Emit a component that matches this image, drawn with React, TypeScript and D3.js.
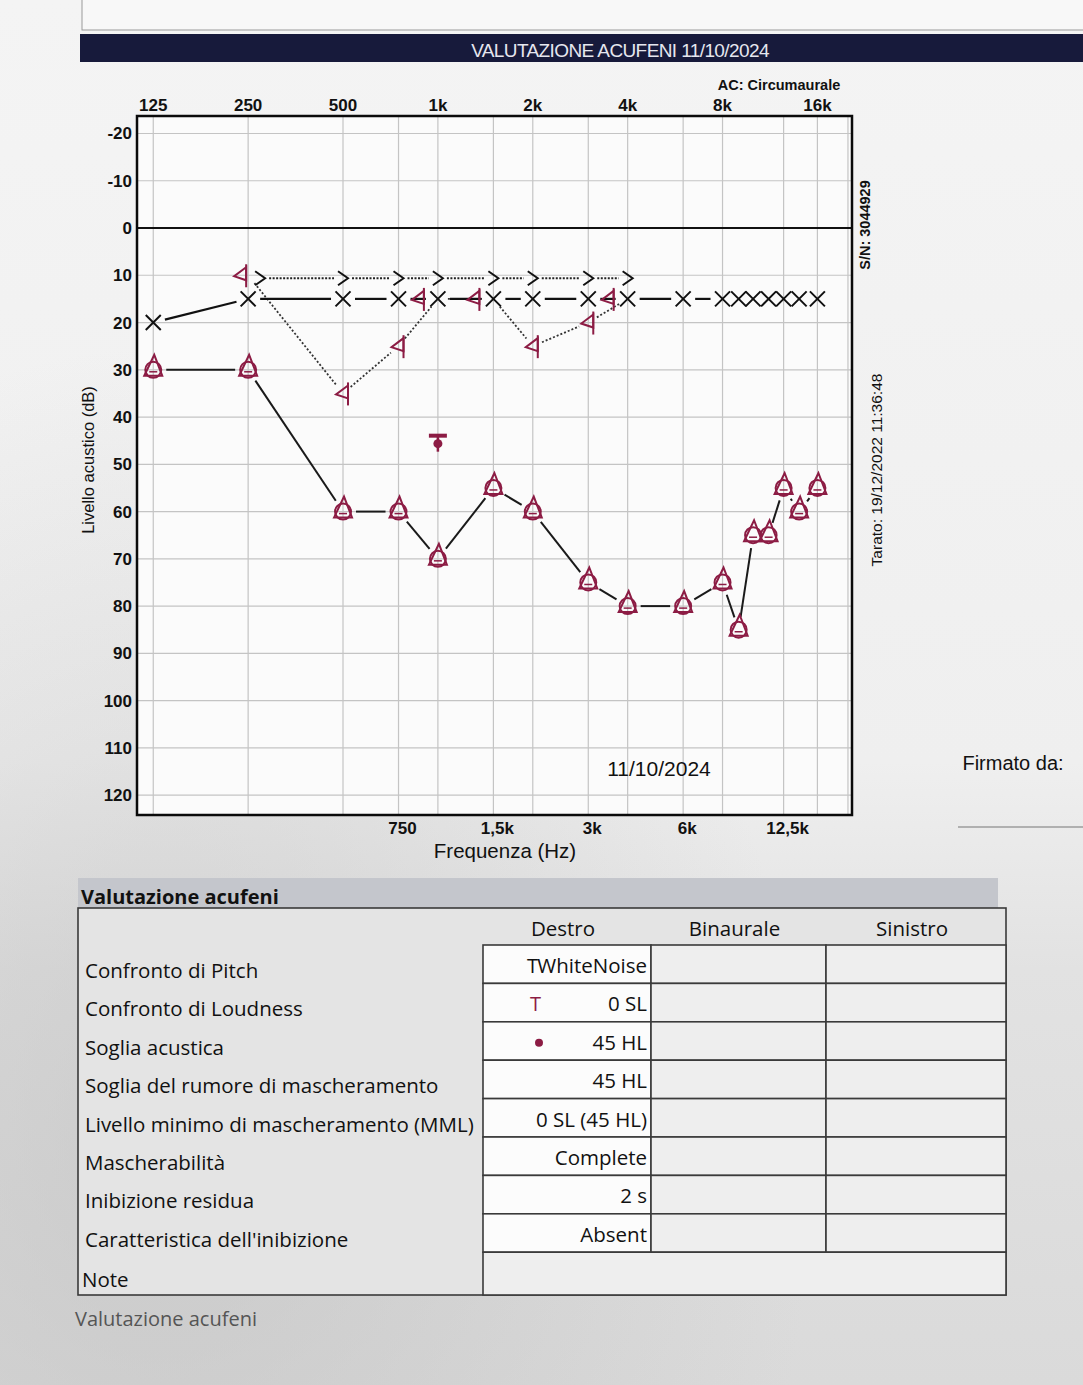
import React from "react";
import * as d3 from "d3";

// ---------- DATA ----------
const topTickFreqs = [125, 250, 500, 1000, 2000, 4000, 8000, 16000];
const topTickLabels = ["125", "250", "500", "1k", "2k", "4k", "8k", "16k"];
const bottomTickFreqs = [750, 1500, 3000, 6000, 12500];
const bottomTickLabels = ["750", "1,5k", "3k", "6k", "12,5k"];
const gridFreqs = [125, 250, 500, 750, 1000, 1500, 2000, 3000, 4000, 6000, 8000, 12500, 16000, 20000];
const dbTicks = [-20, -10, 0, 10, 20, 30, 40, 50, 60, 70, 80, 90, 100, 110, 120];

// Left ear AC (X, solid black)
const xFreqs = [125, 250, 500, 750, 1000, 1500, 2000, 3000, 4000, 6000, 8000, 9000, 10000, 11200, 12500, 14000, 16000];
const xValues = [20, 15, 15, 15, 15, 15, 15, 15, 15, 15, 15, 15, 15, 15, 15, 15, 15];

// Left BC (">", dotted black)
const gtFreqs = [250, 500, 750, 1000, 1500, 2000, 3000, 4000];
const gtValues = [10, 10, 10, 10, 10, 10, 10, 10];

// Right BC ("<", dotted)
const ltFreqs = [250, 500, 750, 1000, 1500, 2000, 3000, 4000];
const ltValues = [10, 35, 25, 15, 15, 25, 20, 15];

// Right AC masked (triangle in circle, solid line)
const triFreqs = [125, 250, 500, 750, 1000, 1500, 2000, 3000, 4000, 6000, 8000, 9000, 10000, 11200, 12500, 14000, 16000];
const triValues = [30, 30, 60, 60, 70, 55, 60, 75, 80, 80, 75, 85, 65, 65, 55, 60, 55];

// Tinnitus match
const tinnitusFreq = 1000;
const tinnitusLevel = 45;

// Table
const tableColumns = ["Destro", "Binaurale", "Sinistro"];
const tableRows = [
  "Confronto di Pitch",
  "Confronto di Loudness",
  "Soglia acustica",
  "Soglia del rumore di mascheramento",
  "Livello minimo di mascheramento (MML)",
  "Mascherabilità",
  "Inibizione residua",
  "Caratteristica dell'inibizione",
];
const destroValues = ["WhiteNoise", "0 SL", "45 HL", "45 HL", "0 SL (45 HL)", "Complete", "2 s", "Absent"];
const destroSymbols = ["T", "T", "•", "", "", "", "", ""];

// ---------- STYLE ----------
const RED = "#8c1c44";
const CHART_FONT = "'Liberation Sans', Arial, sans-serif";
const TABLE_FONT = "'Open Sans', 'Noto Sans', sans-serif";

const W = 1083;
const H = 1385;

const x = d3.scaleLog().domain([111, 20600]).range([137, 852]);
const y = d3.scaleLinear().domain([-23.7, 124.2]).range([116, 815]);

function shorten(p1: [number, number], p2: [number, number], g: number) {
  const dx = p2[0] - p1[0];
  const dy = p2[1] - p1[1];
  const len = Math.hypot(dx, dy);
  if (len <= 2 * g + 1) return null;
  const ux = dx / len;
  const uy = dy / len;
  return [p1[0] + ux * g, p1[1] + uy * g, p2[0] - ux * g, p2[1] - uy * g];
}

function Segments({ pts, gap, stroke, dash, width }: any) {
  const out: any[] = [];
  for (let i = 0; i < pts.length - 1; i++) {
    const s = shorten(pts[i], pts[i + 1], gap);
    if (!s) continue;
    out.push(
      <line key={i} x1={s[0]} y1={s[1]} x2={s[2]} y2={s[3]} stroke={stroke} strokeWidth={width} strokeDasharray={dash} />
    );
  }
  return <g>{out}</g>;
}

export default function App() {
  const xPts: [number, number][] = xFreqs.map((f, i) => [x(f), y(xValues[i])]);
  const triPts: [number, number][] = triFreqs.map((f, i) => [x(f), y(triValues[i])]);
  const ltPts: [number, number][] = ltFreqs.map((f, i) => [x(f), y(ltValues[i])]);
  // marker offsets to avoid collisions
  const ltMarks = ltFreqs.map((f, i) => {
    const xi = xFreqs.indexOf(f);
    const gi = gtFreqs.indexOf(f);
    let off = 0;
    if (xi >= 0 && xValues[xi] === ltValues[i]) off = -19;
    else if (gi >= 0 && gtValues[gi] === ltValues[i]) off = -7;
    return [x(f) + off, y(ltValues[i])] as [number, number];
  });
  const gtMarks = gtFreqs.map((f, i) => {
    const li = ltFreqs.indexOf(f);
    const off = li >= 0 && ltValues[li] === gtValues[i] ? 12 : 0;
    return [x(f) + off, y(gtValues[i]) + 3] as [number, number];
  });

  const plotL = x.range()[0];
  const plotR = x.range()[1];
  const plotT = y.range()[0];
  const plotB = y.range()[1];

  // table geometry
  const tblL = 78;
  const tblR = 1006;
  const colX = [483, 651, 826, tblR];
  const rowTop = 945;
  const rowH = 38.4;
  const noteBottom = 1295;

  return (
    <svg width={W} height={H} style={{ position: "absolute", left: 0, top: 0 }} xmlns="http://www.w3.org/2000/svg">
      <defs>
        <linearGradient id="bg" x1="0" y1="0" x2="0" y2="1">
          <stop offset="0" stopColor="#f4f4f4" />
          <stop offset="0.55" stopColor="#efefef" />
          <stop offset="0.7" stopColor="#e2e2e2" />
          <stop offset="1" stopColor="#dadada" />
        </linearGradient>
        <radialGradient id="shade" cx="0.15" cy="0.85" r="0.6">
          <stop offset="0" stopColor="#bdbdbd" stopOpacity="0.55" />
          <stop offset="1" stopColor="#bdbdbd" stopOpacity="0" />
        </radialGradient>
      </defs>
      <rect x={0} y={0} width={W} height={H} fill="url(#bg)" />
      <rect x={0} y={0} width={W} height={H} fill="url(#shade)" />

      {/* top paper box */}
      <rect x={82} y={-4} width={1010} height={34} fill="#f8f8f8" stroke="#9a9a9a" strokeWidth={1} />
      {/* title bar */}
      <rect x={80} y={34} width={1010} height={28} fill="#171a3b" />
      <text x={620} y={57} textAnchor="middle" fill="#e6e7ef" fontFamily={CHART_FONT} fontSize={19} letterSpacing={-0.6}>
        VALUTAZIONE ACUFENI 11/10/2024
      </text>

      <text x={779} y={90} textAnchor="middle" fontFamily={CHART_FONT} fontSize={14.5} fontWeight="bold" fill="#111">
        AC: Circumaurale
      </text>

      {/* plot area */}
      <rect x={plotL} y={plotT} width={plotR - plotL} height={plotB - plotT} fill="#fbfbfb" />
      {gridFreqs.map((f) => (
        <line key={"vg" + f} x1={x(f)} x2={x(f)} y1={plotT} y2={plotB} stroke="#c4c4c4" strokeWidth={1.2} />
      ))}
      {dbTicks.map((d) => (
        <line key={"hg" + d} x1={plotL} x2={plotR} y1={y(d)} y2={y(d)} stroke={d === 0 ? "#111" : "#c4c4c4"} strokeWidth={d === 0 ? 2 : 1.2} />
      ))}
      <rect x={plotL} y={plotT} width={plotR - plotL} height={plotB - plotT} fill="none" stroke="#0a0a0a" strokeWidth={2.5} />

      {/* axis labels */}
      {topTickFreqs.map((f, i) => (
        <text key={"tt" + f} x={x(f)} y={111} textAnchor="middle" fontFamily={CHART_FONT} fontSize={17} fontWeight="bold" fill="#111">
          {topTickLabels[i]}
        </text>
      ))}
      {bottomTickFreqs.map((f, i) => (
        <text key={"bt" + f} x={x(f) + 4} y={834} textAnchor="middle" fontFamily={CHART_FONT} fontSize={17} fontWeight="bold" fill="#111">
          {bottomTickLabels[i]}
        </text>
      ))}
      {dbTicks.map((d) => (
        <text key={"yt" + d} x={132} y={y(d) + 6} textAnchor="end" fontFamily={CHART_FONT} fontSize={17} fontWeight="bold" fill="#111">
          {d}
        </text>
      ))}
      <text x={505} y={858} textAnchor="middle" fontFamily={CHART_FONT} fontSize={20.5} fill="#111">
        Frequenza (Hz)
      </text>
      <text transform={`translate(94,460) rotate(-90)`} textAnchor="middle" fontFamily={CHART_FONT} fontSize={16.5} fill="#111">
        Livello acustico (dB)
      </text>
      <text transform={`translate(870,225) rotate(-90)`} textAnchor="middle" fontFamily={CHART_FONT} fontSize={14.5} fontWeight="bold" fill="#111">
        S/N: 3044929
      </text>
      <text transform={`translate(882,470) rotate(-90)`} textAnchor="middle" fontFamily={CHART_FONT} fontSize={15.5} fill="#111">
        Tarato: 19/12/2022 11:36:48
      </text>
      <text x={659} y={776} textAnchor="middle" fontFamily={CHART_FONT} fontSize={21} fill="#111">
        11/10/2024
      </text>
      <text x={1013} y={770} textAnchor="middle" fontFamily={CHART_FONT} fontSize={20} fill="#111">
        Firmato da:
      </text>
      <line x1={958} x2={1083} y1={827} y2={827} stroke="#777" strokeWidth={1.2} />

      {/* series lines */}
      <Segments pts={gtMarks} gap={9} stroke="#222" dash="2,1.5" width={2} />
      <Segments pts={ltPts} gap={10} stroke="#333" dash="2,2" width={1.8} />
      <Segments pts={xPts} gap={12} stroke="#111" width={2.2} />
      <Segments pts={triPts} gap={13} stroke="#1a1a1a" width={2} />

      {/* markers: X */}
      {xPts.map((p, i) => (
        <path key={"x" + i} d={`M${p[0] - 7.5},${p[1] - 7.5}L${p[0] + 7.5},${p[1] + 7.5}M${p[0] + 7.5},${p[1] - 7.5}L${p[0] - 7.5},${p[1] + 7.5}`} stroke="#111" strokeWidth={2} fill="none" />
      ))}
      {/* markers: > */}
      {gtMarks.map((p, i) => (
        <path key={"gt" + i} d={`M${p[0] - 5},${p[1] - 7}L${p[0] + 5},${p[1]}L${p[0] - 5},${p[1] + 7}`} stroke="#111" strokeWidth={2} fill="none" />
      ))}
      {/* markers: < (red) */}
      {ltMarks.map((p, i) => (
        <g key={"lt" + i} stroke={RED} strokeWidth={2} fill="none">
          <path d={`M${p[0] + 5},${p[1] - 8}L${p[0] - 7},${p[1] + 1}L${p[0] + 5},${p[1] + 5}Z`} />
          <line x1={p[0] + 5} x2={p[0] + 5} y1={p[1] - 11} y2={p[1] + 12} />
        </g>
      ))}
      {/* markers: triangle in circle */}
      {triPts.map((p, i) => (
        <g key={"tr" + i} stroke={RED} strokeWidth={2} fill="none">
          <circle cx={p[0]} cy={p[1]} r={8} />
          <path d={`M${p[0] - 9},${p[1] + 6}L${p[0] + 1},${p[1] - 15}L${p[0] + 9},${p[1] + 6}Z`} />
          <line x1={p[0] - 4} x2={p[0] + 4} y1={p[1] + 2} y2={p[1] + 2} strokeWidth={1.5} />
        </g>
      ))}
      {/* tinnitus T + dot */}
      <g>
        <line x1={x(tinnitusFreq) - 9} x2={x(tinnitusFreq) + 9} y1={y(tinnitusLevel) - 5} y2={y(tinnitusLevel) - 5} stroke={RED} strokeWidth={4} />
        <line x1={x(tinnitusFreq)} x2={x(tinnitusFreq)} y1={y(tinnitusLevel) - 5} y2={y(tinnitusLevel) + 11} stroke={RED} strokeWidth={2.5} />
        <circle cx={x(tinnitusFreq)} cy={y(tinnitusLevel) + 3} r={4.5} fill={RED} />
      </g>

      {/* ---------- TABLE ---------- */}
      <rect x={tblL} y={878} width={920} height={31} fill="#c4c6cc" />
      <text x={81} y={904} fontFamily={TABLE_FONT} fontSize={20} fontWeight="bold" fill="#111">
        Valutazione acufeni
      </text>
      <rect x={tblL} y={908} width={tblR - tblL} height={noteBottom - 908} fill="#e4e4e4" stroke="#3a3a3a" strokeWidth={1.6} />
      {tableColumns.map((c, i) => (
        <text key={"col" + c} x={(colX[i] + colX[i + 1]) / 2 - 4} y={936} textAnchor="middle" fontFamily={TABLE_FONT} fontSize={20.5} fill="#111">
          {c}
        </text>
      ))}
      {/* cells */}
      {tableRows.map((r, ri) => (
        <g key={"row" + ri}>
          {[0, 1, 2].map((ci) => (
            <rect
              key={ci}
              x={colX[ci]}
              y={rowTop + ri * rowH}
              width={colX[ci + 1] - colX[ci]}
              height={rowH}
              fill={ci === 0 ? "#fcfcfc" : "#eeeeee"}
              stroke="#3a3a3a"
              strokeWidth={1.6}
            />
          ))}
          <text x={85} y={rowTop + ri * rowH + 33} fontFamily={TABLE_FONT} fontSize={20.5} fill="#111">
            {r}
          </text>
          <text x={colX[1] - 4} y={rowTop + ri * rowH + 28} textAnchor="end" fontFamily={TABLE_FONT} fontSize={20.5} fill="#111">
            {destroValues[ri]}
          </text>
          {destroSymbols[ri] === "T" && (
            <text x={ri === 0 ? 527 : 530} y={rowTop + ri * rowH + 28} fontFamily={TABLE_FONT} fontSize={20} fill={ri === 0 ? "#111" : RED}>
              T
            </text>
          )}
          {destroSymbols[ri] === "•" && <circle cx={539} cy={rowTop + ri * rowH + 21} r={4} fill={RED} />}
        </g>
      ))}
      <rect x={colX[0]} y={rowTop + tableRows.length * rowH} width={tblR - colX[0]} height={noteBottom - (rowTop + tableRows.length * rowH)} fill="#eeeeee" stroke="#3a3a3a" strokeWidth={1.6} />
      <text x={82} y={1287} fontFamily={TABLE_FONT} fontSize={20.5} fill="#111">
        Note
      </text>
      <text x={75} y={1326} fontFamily={TABLE_FONT} fontSize={20} fill="#555">
        Valutazione acufeni
      </text>
    </svg>
  );
}
